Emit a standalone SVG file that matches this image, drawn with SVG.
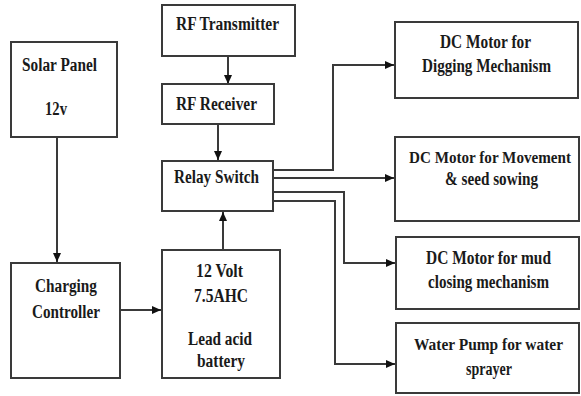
<svg xmlns="http://www.w3.org/2000/svg" width="581" height="396" viewBox="0 0 581 396">
<style>
rect.box{fill:#fff;stroke:#3a3a3a;stroke-width:2}
text{font-family:"Liberation Serif","Times New Roman",serif;font-weight:bold;font-size:18px;fill:#1a1a1a}
text.sm{font-size:16px}
.c path{fill:none;stroke:#3a3a3a;stroke-width:2;marker-end:url(#ah)}
</style>
<defs>
<marker id="ah" markerUnits="userSpaceOnUse" markerWidth="10" markerHeight="10" refX="9" refY="5" orient="auto">
<path d="M0,1 L9,5 L0,9 Z" fill="#111"/>
</marker>
</defs>
<rect width="581" height="396" fill="#fff"/>
<g class="c" id="connectors">
<path d="M228,56 V84"/>
<path d="M218,124 V160"/>
<path d="M57,137 V262"/>
<path d="M120,310 H161"/>
<path d="M223,250 V212"/>
<path d="M273,170 H333 V65 H394"/>
<path d="M273,178 H394"/>
<path d="M273,192 H344 V263 H395"/>
<path d="M273,201 H335 V364 H395"/>
</g>
<g id="solar"><rect class="box" x="11" y="42" width="106" height="95"/>
<text x="22" y="71" textLength="75" lengthAdjust="spacingAndGlyphs">Solar Panel</text>
<text x="45" y="115" textLength="22" lengthAdjust="spacingAndGlyphs">12v</text></g>
<g id="rftx"><rect class="box" x="162" y="5" width="133" height="51"/>
<text x="176" y="30" textLength="103" lengthAdjust="spacingAndGlyphs">RF Transmitter</text></g>
<g id="rfrx"><rect class="box" x="162" y="84" width="112" height="40"/>
<text x="176" y="110" textLength="81" lengthAdjust="spacingAndGlyphs">RF Receiver</text></g>
<g id="relay"><rect class="box" x="162" y="161" width="111" height="50"/>
<text x="174" y="183" textLength="85" lengthAdjust="spacingAndGlyphs">Relay Switch</text></g>
<g id="charger"><rect class="box" x="11" y="263" width="109" height="115"/>
<text x="35" y="292" textLength="62" lengthAdjust="spacingAndGlyphs">Charging</text>
<text x="32" y="318" textLength="68" lengthAdjust="spacingAndGlyphs">Controller</text></g>
<g id="battery"><rect class="box" x="162" y="250" width="118" height="128"/>
<text x="196" y="277" textLength="47" lengthAdjust="spacingAndGlyphs">12 Volt</text>
<text x="194" y="302" textLength="54" lengthAdjust="spacingAndGlyphs">7.5AHC</text>
<text x="188" y="345" textLength="64" lengthAdjust="spacingAndGlyphs">Lead acid</text>
<text x="197" y="367" textLength="48" lengthAdjust="spacingAndGlyphs">battery</text></g>
<g id="digging"><rect class="box" x="395" y="22" width="183" height="76"/>
<text x="440" y="48" textLength="91" lengthAdjust="spacingAndGlyphs">DC Motor for</text>
<text x="422" y="72" textLength="129" lengthAdjust="spacingAndGlyphs">Digging Mechanism</text></g>
<g id="movement"><rect class="box" x="395" y="137" width="184" height="84"/>
<text class="sm" x="409" y="163" textLength="162" lengthAdjust="spacingAndGlyphs">DC Motor for Movement</text>
<text x="445" y="185" textLength="93" lengthAdjust="spacingAndGlyphs">&amp; seed sowing</text></g>
<g id="mud"><rect class="box" x="396" y="237" width="183" height="72"/>
<text x="426" y="264" textLength="125" lengthAdjust="spacingAndGlyphs">DC Motor for mud</text>
<text x="428" y="288" textLength="121" lengthAdjust="spacingAndGlyphs">closing mechanism</text></g>
<g id="pump"><rect class="box" x="396" y="323" width="183" height="70"/>
<text class="sm" x="414" y="350" textLength="149" lengthAdjust="spacingAndGlyphs">Water Pump for water</text>
<text x="466" y="375" textLength="46" lengthAdjust="spacingAndGlyphs">sprayer</text></g>
</svg>
